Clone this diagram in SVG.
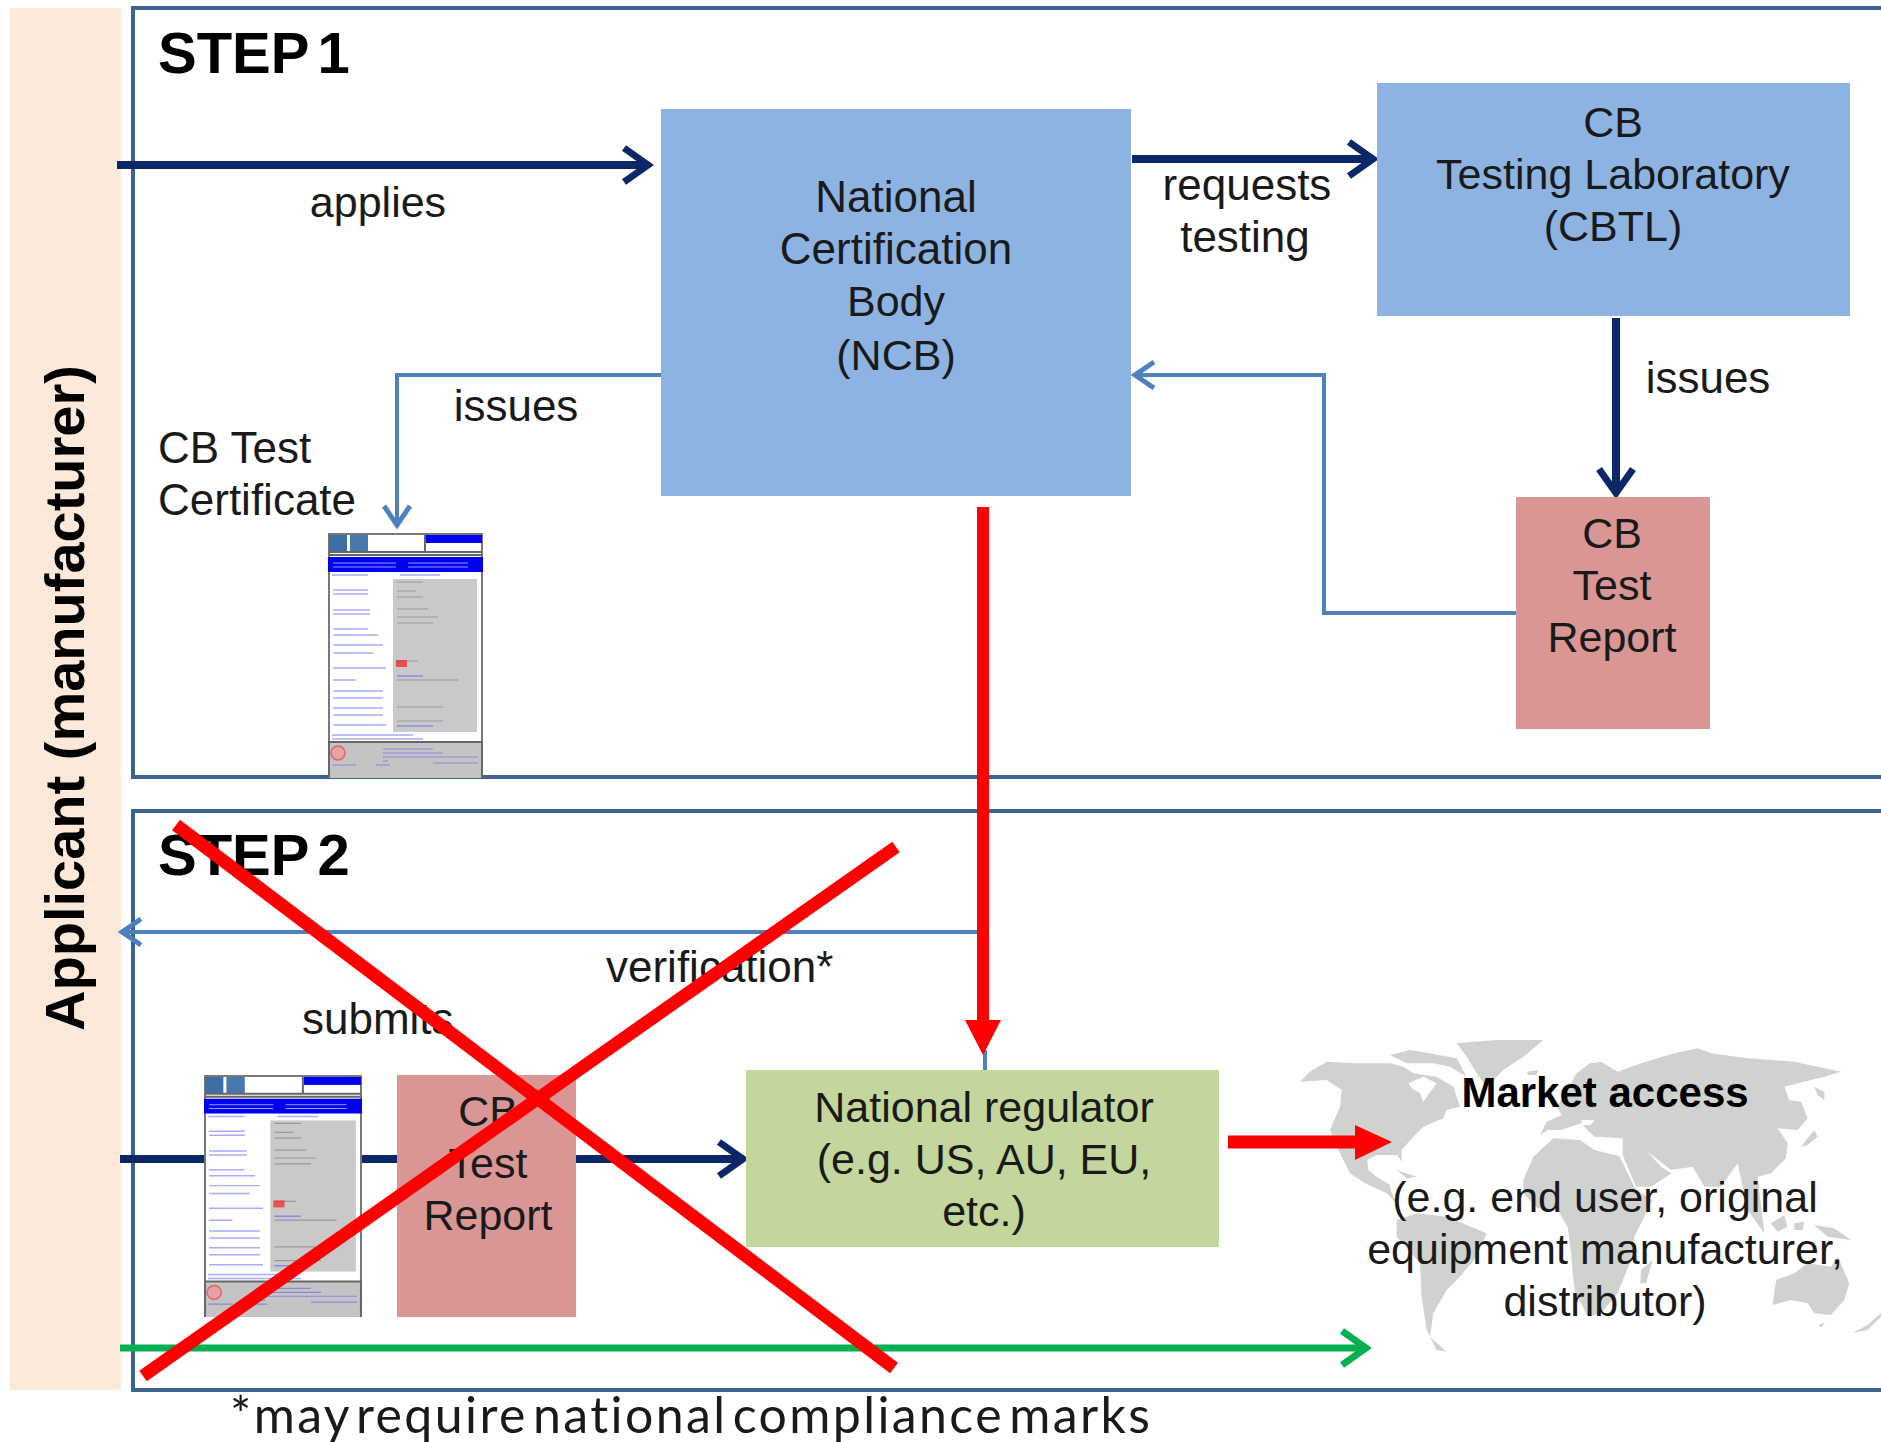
<svg xmlns="http://www.w3.org/2000/svg" xmlns:xlink="http://www.w3.org/1999/xlink" width="1881" height="1442" viewBox="0 0 1881 1442">
<style>
text{font-family:"Liberation Sans",Arial,sans-serif;font-size:43px;fill:#1a1a1a}
.c{text-anchor:middle}
.w{font-size:44px}
.b{font-weight:bold;fill:#000}
.step{font-weight:bold;font-size:58px;word-spacing:-7px;fill:#000}
.frame{fill:#fff;stroke:#3c6291;stroke-width:4}
.navy{fill:none;stroke:#0b2767;stroke-width:8}
.blue{fill:none;stroke:#4f81bd;stroke-width:4}
.red{fill:none;stroke:#f00;stroke-width:13}
.map{fill:#d0d2cf}
</style>
<defs>
<filter id="soft" x="-5%" y="-5%" width="110%" height="110%"><feGaussianBlur stdDeviation="0.7"/></filter>
<filter id="softmap" x="-5%" y="-5%" width="110%" height="110%"><feGaussianBlur stdDeviation="2"/></filter>
<marker id="an" markerUnits="userSpaceOnUse" markerWidth="36" markerHeight="40" refX="30" refY="20" orient="auto"><path d="M6 3L30 20L6 37" fill="none" stroke="#0b2767" stroke-width="7"/></marker>
<marker id="ab" markerUnits="userSpaceOnUse" markerWidth="30" markerHeight="34" refX="24" refY="16" orient="auto"><path d="M5 3L24 16L5 29" fill="none" stroke="#4f81bd" stroke-width="5"/></marker>
<marker id="ag" markerUnits="userSpaceOnUse" markerWidth="36" markerHeight="40" refX="31" refY="20" orient="auto"><path d="M7 3L31 20L7 37" fill="none" stroke="#00b050" stroke-width="7"/></marker>
<symbol id="doc" viewBox="0 0 155 245" preserveAspectRatio="none">
<g filter="url(#soft)">
<rect x="1" y="1" width="153" height="243" fill="#fff" stroke="#777" stroke-width="2"/>
<rect x="1" y="2" width="18" height="17" fill="#3c6ea5"/><rect x="22" y="2" width="18" height="17" fill="#4878ae"/>
<rect x="98" y="2" width="56" height="8" fill="#0000f0"/>
<path d="M97 2V18M1 19H154M1 22H154" stroke="#666" stroke-width="2" fill="none"/>
<rect x="0" y="24" width="155" height="15" fill="#0000f0"/>
<path d="M5 30H68M80 30H140M5 34H68M80 34H140" stroke="#99f" stroke-width="1"/>
<rect x="65" y="46" width="84" height="153" fill="#c9c9c9"/>
<path d="M4 42H40M72 42H112M5 57H40M5 61H40M5 77H42M5 81H42M5 96H40M5 102H50M5 112H55M5 120H45M5 135H58M5 147H28M5 158H55M5 165H55M5 175H55M5 182H55M5 192H58M4 202H85M4 206H95" stroke="#aaf" stroke-width="1.5" fill="none"/>
<path d="M69 49H95M69 58H88M69 64H95M69 76H100M69 84H110M69 90H105M69 128H90M69 147H130M69 174H115M69 188H115" stroke="#999" stroke-width="1.2" fill="none"/>
<path d="M69 143H95M69 193H105" stroke="#88e" stroke-width="1.5" fill="none"/>
<rect x="68" y="127" width="11" height="7" fill="#e33" opacity=".8"/>
<rect x="0" y="209" width="155" height="36" fill="#c4c4c4"/>
<path d="M0 209H155M1 209V245M154 209V245" stroke="#666" stroke-width="2" fill="none"/>
<circle cx="10" cy="220" r="7" fill="#e9a0a6" stroke="#d66" stroke-width="1.5"/>
<path d="M55 216H105M55 220H115M55 224H150M55 228H60M105 230H150M4 232H28M48 232H62" stroke="#88d" stroke-width="1.2" fill="none"/>
</g>
</symbol>
</defs>
<rect width="1881" height="1442" fill="#fff"/>

<g id="applicant">
<rect x="10" y="8" width="111" height="1382" fill="#fde9d9"/>
<text transform="translate(84 698) rotate(-90)" class="c b" style="font-size:56px">Applicant (manufacturer)</text>
</g>
<g id="step1">
<rect class="frame" x="133" y="8" width="1760" height="769"/>
<text class="step" x="158" y="73">STEP 1</text>
</g>
<g id="step2">
<rect class="frame" x="133" y="811" width="1760" height="579"/>
<text class="step" x="158" y="875">STEP 2</text>
</g>

<g id="market">
<g class="map" filter="url(#softmap)" transform="translate(1290 1030) scale(0.3333)">
<path d="M30 155L60 125L110 95L190 100L300 100L340 110L370 130L440 140L490 170L510 230L470 240L460 265L400 290L370 320L335 360L335 395L322 375L260 375L232 390L235 420L260 440L300 465L305 490L320 520L290 490L225 460L180 430L150 370L120 300L150 230L155 180L110 150Z"/>
<path d="M300 75L360 60L420 70L500 85L530 140L480 110L430 100L350 100Z"/>
<path d="M500 40L620 30L760 30L700 80L640 120L590 170L560 130L530 80Z"/>
<path d="M320 570L380 550L470 560L590 610L560 680L510 740L470 780L430 850L420 920L470 965L440 960L410 900L395 800L390 700L320 620Z"/>
<path d="M320 420L380 440L350 445Z"/>
<path d="M710 125L745 120L740 135L715 135Z"/>
<path d="M355 160L400 140L440 160L400 215L390 190L365 175Z" fill="#fff"/>
</g>
<g class="map" filter="url(#softmap)" transform="translate(1581 1030) scale(0.3333)">
<path d="M-123 315L-103 275L-58 255L-73 230L-13 130L27 100L60 95L110 125L180 100L280 70L350 55L390 70L500 85L640 95L780 125L730 140L690 150L610 170L625 210L660 215L680 265L650 300L590 295L620 340L615 385L570 430L530 440L550 610L500 540L470 400L420 470L370 470L335 410L270 420L200 365L240 410L272 430L210 470L165 470L125 375L125 325L40 320L0 280L-30 290L-60 300L-100 300Z"/>
<path d="M-173 450L-143 380L-83 325L-3 330L40 360L115 378L165 480L215 510L160 620L150 690L110 790L60 850L20 860L-20 780L-30 670L-40 590L-70 540L-130 535L-173 490Z"/>
<path d="M180 720L215 690L195 760L178 760Z"/>
<path d="M570 580L610 555L620 590L590 605Z"/>
<path d="M640 580L670 575L665 600L640 600Z"/>
<path d="M700 585L760 595L810 630L740 620Z"/>
<path d="M575 825L585 750L640 730L680 700L750 710L770 680L805 760L790 810L750 855L700 850L680 820L630 810Z"/>
<path d="M660 350L700 300L710 320L680 345Z"/>
<path d="M700 170L730 185L730 210L710 195Z"/>
<path d="M712 885L730 878L722 892Z"/>
<path d="M815 908L860 885L900 850V860L860 900Z"/>
<path d="M0 270L40 270L30 285L5 285Z" fill="#fff"/>
</g>
<text class="c b" x="1605" y="1107" style="font-size:42px">Market access</text>
<text class="c" x="1605" y="1212">(e.g. end user, original</text>
<text class="c" x="1605" y="1264">equipment manufacturer,</text>
<text class="c" x="1605" y="1316">distributor)</text>
</g>

<g id="connectors">
<path class="navy" d="M117 165H648" marker-end="url(#an)"/>
<path class="navy" d="M1132 159H1373" marker-end="url(#an)"/>
<path class="navy" d="M1616 318V493" marker-end="url(#an)"/>
<path class="blue" d="M661 375H397V525" marker-end="url(#ab)"/>
<path class="blue" d="M1516 613H1324V375H1135" marker-end="url(#ab)"/>
<path class="blue" d="M983 932H122" marker-end="url(#ab)"/>
<path class="blue" d="M985 1050V1070"/>
<path class="navy" d="M120 1159H743" marker-end="url(#an)"/>
<path d="M120 1348H1366" fill="none" stroke="#00b050" stroke-width="7" marker-end="url(#ag)"/>
<path d="M983 507V1022" fill="none" stroke="#f00" stroke-width="12"/>
<path d="M965 1020H1001L983 1055Z" fill="#f00"/>
<path d="M1228 1142H1360" fill="none" stroke="#f00" stroke-width="13"/>
<path d="M1355 1125L1392 1142L1355 1160Z" fill="#f00"/>
</g>

<g id="ncb">
<rect x="661" y="109" width="470" height="387" fill="#8db3e2"/>
<text class="c w" x="896" y="212">National</text>
<text class="c w" x="896" y="264">Certification</text>
<text class="c" x="896" y="316">Body</text>
<text class="c" x="896" y="370">(NCB)</text>
</g>
<g id="cbtl">
<rect x="1377" y="83" width="473" height="233" fill="#8db3e2"/>
<text class="c" x="1613" y="137">CB</text>
<text class="c" x="1613" y="189">Testing Laboratory</text>
<text class="c" x="1613" y="241">(CBTL)</text>
</g>
<g id="report1">
<rect x="1516" y="497" width="194" height="232" fill="#d99694"/>
<text class="c" x="1612" y="548">CB</text>
<text class="c" x="1612" y="600">Test</text>
<text class="c" x="1612" y="652">Report</text>
</g>
<g id="certificate1">
<use xlink:href="#doc" href="#doc" x="328" y="533" width="155" height="245"/>
</g>
<g id="certificate2">
<use xlink:href="#doc" href="#doc" x="204" y="1075" width="158" height="242"/>
</g>
<g id="report2">
<rect x="397" y="1075" width="179" height="242" fill="#d99694"/>
<text class="c" x="488" y="1126">CB</text>
<text class="c" x="488" y="1178">Test</text>
<text class="c" x="488" y="1230">Report</text>
</g>
<g id="regulator">
<rect x="746" y="1070" width="473" height="177" fill="#c3d69b"/>
<text class="c" x="984" y="1122">National regulator</text>
<text class="c" x="984" y="1174">(e.g. US, AU, EU,</text>
<text class="c" x="984" y="1226">etc.)</text>
</g>

<g id="labels">
<text class="c" x="378" y="217">applies</text>
<text class="c w" x="1247" y="200">requests</text>
<text class="c w" x="1245" y="252">testing</text>
<text class="c w" x="516" y="421">issues</text>
<text class="c w" x="1708" y="393">issues</text>
<text class="w" x="158" y="463">CB Test</text>
<text class="w" x="158" y="515">Certificate</text>
<text class="w" x="606" y="982">verification*</text>
<text class="w" x="302" y="1034">submits</text>
<text x="230" y="1433" style="font-family:Lato,'Noto Sans',sans-serif;font-size:50px;letter-spacing:2.4px;word-spacing:-10px">*may require national compliance marks</text>
</g>

<g id="cross">
<path class="red" d="M176 825L894 1368"/>
<path class="red" d="M896 847L143 1376"/>
</g>
</svg>
